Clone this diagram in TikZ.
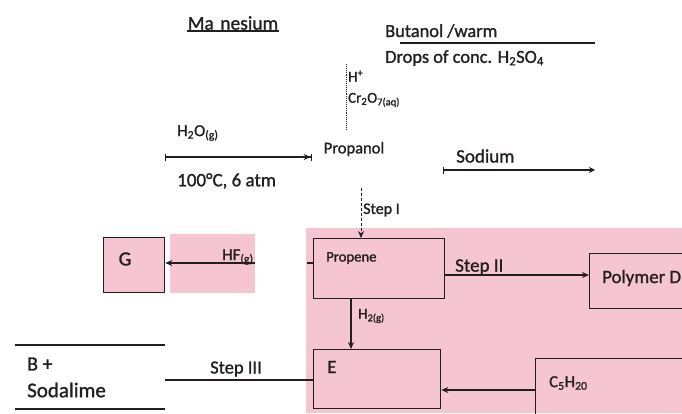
\documentclass[tikz,border=0pt]{standalone}
\usepackage{fontspec}
\setmainfont{Carlito}[FakeBold=1.2]
\usetikzlibrary{arrows.meta}
\definecolor{pinkbg}{RGB}{245,198,210}
\definecolor{ink}{RGB}{35,30,32}
\newcommand{\fsz}[1]{\fontsize{#1}{#1}\selectfont}
\begin{document}
\begin{tikzpicture}[x=1pt,y=-1pt,
  every node/.style={text=ink,inner sep=1pt},
  lbl/.style={anchor=west,font=\fsz{#1}},
  box/.style={draw=ink,line width=1.3pt,rectangle,inner sep=0pt,anchor=north west},
  conn/.style={draw=ink,line width=1.3pt},
  arr/.style={conn,-{Stealth[length=7pt,width=6pt]}}]
\useasboundingbox (0,0) rectangle (682,413);
% pink backgrounds
\fill[pinkbg] (306,228) rectangle (682,413);
\fill[pinkbg] (170,234) rectangle (255,293);

% boxes
\node[box,fill=pinkbg,minimum width=61pt,minimum height=55pt] (G) at (103,237) {};
\node[box,minimum width=131pt,minimum height=60pt] (prop) at (313,238) {};
\node[box,minimum width=120pt,minimum height=55pt] (poly) at (589,253) {};
\node[box,minimum width=127pt,minimum height=59pt] (E) at (313,349) {};
\node[box,minimum width=160pt,minimum height=70pt] (c5) at (535,358) {};

% box texts
\node[lbl=20,anchor=center] (Gt) at (125,259) {G};
\node[lbl=14.7] (propt) at (325,258) {Propene};
\node[lbl=18.8] (polyt) at (601,278) {Polymer D};
\node[lbl=19] (Et) at (326,367) {E};
\node[lbl=16.8] (c5t) at (548,383) {C\textsubscript{5}H\textsubscript{20}};

% top texts
\node[lbl=19.5,anchor=center] (mg) at (233,23) {Ma\,\,nesium};
\draw[conn] (mg.south west) -- (mg.south east);
\node[lbl=18.4] (but) at (384,31) {Butanol /warm};
\coordinate (bl1) at (400,43);
\coordinate (bl2) at (595,43);
\draw[conn] (bl1) -- (bl2);
\node[lbl=18.4] (drops) at (384,58) {Drops of conc. H\textsubscript{2}SO\textsubscript{4}};

\node[lbl=15] (hplus) at (347,76) {H\textsuperscript{+}};
\node[lbl=15] (cr) at (347,100) {Cr\textsubscript{2}O\textsubscript{7(aq)}};
\coordinate (d1) at (346,64);
\coordinate (d2) at (346,129);
\draw[conn,line width=0.9pt,densely dotted] (d1) -- (d2);

\node[lbl=16.5,anchor=center] (propanol) at (354,149) {Propanol};

% H2O arrow
\coordinate (w1) at (165,157);
\coordinate (w2) at (312,157);
\draw[conn,{Bar[width=7pt]}-{Stealth[length=7pt,width=6pt]Bar[width=7pt]}] (w1) -- (w2);
\node[lbl=16.8] (h2o) at (176,133) {H\textsubscript{2}O\textsubscript{(g)}};
\node[lbl=19] (cond) at (176,181) {100°C, 6 atm};

% Sodium arrow
\coordinate (s1) at (443,170);
\coordinate (s2) at (595,170);
\draw[conn,{Bar[width=7pt]}-{Stealth[length=6pt,width=6pt]}] (s1) -- (s2);
\node[lbl=19] (na) at (455,156) {Sodium};

% Step I
\coordinate (st1) at (361,188);
\draw[conn,line width=0.9pt,densely dashed,-{Stealth[length=7pt,width=6pt]}] (st1) -- (prop.north -| st1);
\node[lbl=16] (stepI) at (362,210) {Step I};

% Step II
\coordinate (y275) at (0,275);
\draw[arr] (prop.east |- y275) -- (poly.west |- y275);
\node[lbl=19] (stepII) at (454,267) {Step II};

% H2
\coordinate (x351) at (351,0);
\draw[arr] (prop.south -| x351) -- (E.north -| x351);
\node[lbl=15] (h2) at (357,316) {H\textsubscript{2(g)}};

% C5H20 -> E
\coordinate (y390) at (0,390);
\draw[arr] (c5.west |- y390) -- (E.east |- y390);

% Propene -> G (HF)
\coordinate (y263) at (0,263);
\coordinate (hfend) at (255,263);
\coordinate (stub) at (307,263);
\draw[conn] (stub) -- (prop.west |- y263);
\draw[arr] (hfend) -- (G.east |- y263);
\begin{scope}
\clip (170,234) rectangle (255,293);
\node[lbl=16.8] (hf) at (221,257) {HF\textsubscript{(g)}};
\end{scope}

% Step III
\coordinate (y380) at (0,380);
\coordinate (s3) at (165,380);
\draw[conn] (s3) -- (E.west |- y380);
\node[lbl=18.5,anchor=center] (stepIII) at (236,369) {Step III};

% B + Sodalime
\coordinate (b1) at (15,345);
\coordinate (b2) at (165,345);
\coordinate (b3) at (15,409);
\coordinate (b4) at (165,409);
\draw[conn] (b1) -- (b2);
\draw[conn] (b3) -- (b4);
\node[lbl=20] (bplus) at (26,364) {B +};
\node[lbl=21] (soda) at (26,390) {Sodalime};
\end{tikzpicture}
\end{document}
